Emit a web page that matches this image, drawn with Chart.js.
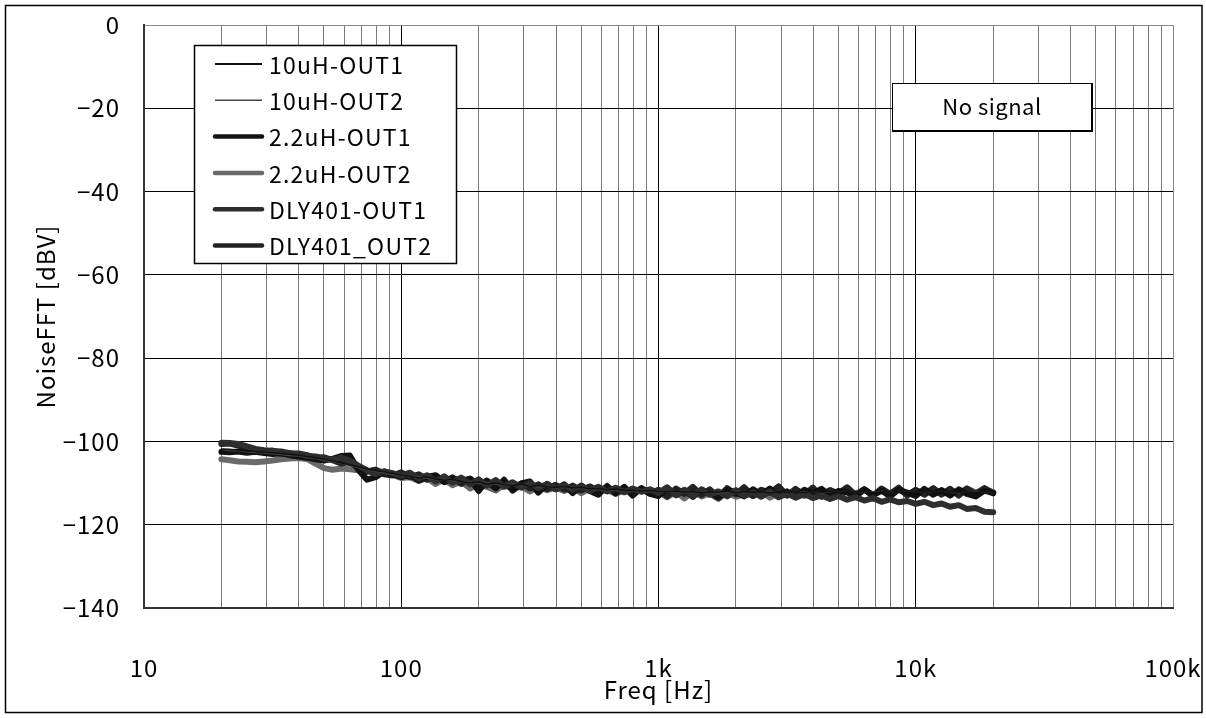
<!DOCTYPE html>
<html>
<head>
<meta charset="utf-8">
<script src="https://cdn.jsdelivr.net/npm/chart.js@4/dist/chart.umd.min.js"></script>
<style>
html,body{margin:0;padding:0;background:#fff;}
canvas{display:block;}
</style>
</head>
<body>
<canvas id="c" width="1206" height="718"></canvas>
<script>
// ---- data ----
const freqHz = [20,21.5,23.3,25.1,27.1,29.3,31.6,34.1,36.9,39.8,43,46.4,50.1,54.1,58.4,63.1,68.1,73.6,79.4,85.8,92.6,
100,108,117,126,136,147,158,171,185,200,215,233,251,271,293,316,341,369,398,430,464,501,541,584,631,681,736,794,858,926,
1000,1080,1170,1260,1360,1470,1580,1710,1850,2000,2150,2330,2510,2710,2930,3160,3410,3690,3980,4300,4640,5010,5410,5840,6310,6810,7360,7940,8580,9260,
10000,10800,11700,12600,13600,14700,15800,17100,18500,20000];

const seriesLabels = ["10uH-OUT1","10uH-OUT2","2.2uH-OUT1","2.2uH-OUT2","DLY401-OUT1","DLY401_OUT2"];

const uH10_out1 = [-101.8,-101.9,-102.1,-102.3,-102.4,-102.6,-102.7,-102.9,-103.1,-103.3,-103.6,-103.9,-104.3,-104.7,-105.1,-105.6,-106.1,-106.6,-107.0,-107.3,-107.7,-108.1,
-108.4,-108.7,-108.5,-109.0,-109.3,-109.1,-109.6,-109.9,-109.7,
-110.2,-110.0,-110.4,-110.6,-110.3,-110.8,-110.5,-110.9,-111.0,
-110.8,-111.2,-111.0,-111.4,-111.3,-111.6,-111.4,-111.8,-111.7,-111.9,-111.8,-112.0,
-112.1,-111.9,-112.2,-112.0,-112.3,-112.1,-112.2,-111.9,-112.3,-112.0,-112.2,-112.1,-112.4,-112.0,-112.2,-112.1,-112.3,-111.9,-112.2,-112.0,-112.3,-112.1,-112.2,-112.0,-112.4,-112.1,-112.2,-112.0,-112.3,-112.1,-112.2,-111.9,-112.3,-112.0,-112.2,-112.1,-112.3,-112.0,-112.2];

const uH10_out2 = [-102.0,-102.2,-102.3,-102.5,-102.7,-102.8,-103.0,-103.2,-103.4,-103.5,-103.8,-104.1,-104.5,-104.9,-105.3,-105.8,-106.3,-106.8,-107.2,-107.5,-107.9,-108.2,
-108.6,-108.4,-108.9,-109.2,-109.0,-109.5,-109.8,-109.6,-110.1,
-109.9,-110.3,-110.5,-110.2,-110.7,-110.6,-110.9,-110.7,-111.1,
-111.0,-111.3,-111.1,-111.5,-111.4,-111.7,-111.5,-111.9,-111.8,-112.0,-111.9,-112.1,
-112.2,-112.0,-112.3,-112.1,-112.2,-112.0,-112.4,-112.1,-112.2,-112.0,-112.3,-112.1,-112.2,-111.9,-112.3,-112.1,-112.2,-112.0,-112.4,-112.1,-112.2,-112.0,-112.3,-112.1,-112.2,-111.9,-112.3,-112.0,-112.2,-112.1,-112.3,-112.0,-112.2,-112.1,-112.4,-112.0,-112.2,-112.1,-112.3];

const uH22_out1 = [-102.5,-102.6,-102.4,-102.7,-102.5,-102.8,-103.0,-102.9,-103.3,-103.6,-103.9,-104.3,-104.6,-104.2,-103.5,-103.4,-106.8,-109.2,-108.6,-107.2,-107.9,-108.6,
-108.0,-109.4,-108.5,-108.1,-109.8,-108.9,-109.3,-109.0,-111.9,
-109.5,-111.3,-109.2,-111.8,-110.1,-109.6,-112.3,-110.2,-111.5,
-110.3,-112.4,-110.6,-111.9,-112.8,-110.7,-112.5,-110.9,-113.0,-111.2,-112.6,-113.1,
-111.4,-112.9,-111.8,-113.3,-111.6,-112.4,-113.5,-111.7,-112.2,-113.2,-111.5,-112.8,-111.3,-113.1,-112.0,-113.4,-111.6,-112.5,-111.4,-113.0,-111.9,-112.2,-113.3,-111.5,-112.9,-111.8,-113.2,-111.6,-112.3,-113.1,-111.4,-112.8,-111.7,-113.0,-111.5,-112.6,-113.2,-111.8,-112.4];

const uH22_out2 = [-104.3,-104.5,-104.8,-104.9,-105.0,-104.8,-104.6,-104.3,-104.1,-104.0,-104.2,-105.3,-106.4,-106.8,-106.5,-106.7,-106.9,-107.2,-106.8,-107.5,-108.0,-108.8,
-108.6,-109.5,-108.8,-110.2,-109.1,-110.5,-109.6,-111.3,-110.2,
-110.9,-111.8,-110.4,-111.4,-110.8,-112.0,-110.9,-111.7,-111.1,
-111.9,-111.2,-112.4,-111.3,-112.1,-111.6,-112.6,-111.8,-112.3,-111.5,-112.5,-111.9,
-113.4,-112.1,-113.7,-112.0,-113.2,-112.5,-113.8,-112.2,-113.3,-112.6,-113.0,-112.0,-113.5,-112.3,-112.9,-111.8,-113.1,-112.2,-112.7,-111.7,-112.9,-112.0,-112.5,-111.6,-112.8,-111.9,-112.6,-111.5,-112.7,-111.8,-112.4,-111.4,-112.8,-111.7,-112.5,-111.3,-112.3,-111.6,-112.2];

const dly_out1 = [-100.3,-100.4,-100.6,-101.2,-101.8,-102.1,-102.3,-102.4,-102.8,-103.0,-103.5,-103.6,-104.1,-104.4,-103.9,-104.6,-105.8,-106.9,-107.8,-107.2,-107.6,-108.3,
-107.5,-108.9,-108.1,-109.6,-108.4,-109.9,-108.7,-110.3,-109.1,
-110.6,-109.3,-110.9,-109.8,-111.1,-110.0,-111.2,-110.2,-111.4,
-110.5,-111.6,-110.7,-111.9,-110.9,-112.0,-111.1,-112.2,-111.3,-112.1,-111.5,-112.4,
-111.0,-112.9,-111.6,-113.1,-111.5,-112.8,-112.0,-113.2,-111.7,-113.0,-112.2,-113.3,-112.0,-113.4,-112.5,-113.5,-112.6,-113.6,-112.9,-113.8,-113.1,-114.0,-113.4,-114.2,-113.6,-114.5,-113.9,-114.6,-114.3,-115.0,-114.5,-115.3,-114.9,-115.7,-115.3,-116.2,-116.0,-116.9,-117.0];

const dly_out2 = [-100.6,-100.5,-101.0,-101.6,-102.0,-102.5,-102.2,-102.8,-103.1,-102.9,-103.3,-104.0,-103.8,-104.5,-105.3,-104.9,-106.4,-107.3,-106.8,-107.9,-108.2,-107.4,
-108.6,-107.9,-109.2,-108.3,-109.7,-108.6,-110.2,-108.9,-110.4,
-109.4,-110.8,-109.7,-111.0,-110.1,-111.3,-110.3,-111.5,-110.4,
-111.6,-110.6,-111.8,-110.8,-112.0,-111.0,-112.3,-111.2,-112.4,-111.4,-112.5,-111.6,
-113.2,-111.3,-112.6,-110.9,-112.9,-111.5,-113.4,-111.2,-112.7,-111.0,-113.1,-111.6,-112.4,-110.8,-113.0,-111.4,-112.8,-111.1,-113.3,-111.7,-112.5,-111.0,-112.9,-111.5,-113.1,-111.3,-112.6,-111.1,-113.0,-111.6,-112.8,-111.2,-112.7,-111.4,-113.0,-111.3,-112.6,-111.2,-112.4];

const xTickValues = [10,20,30,40,50,60,70,80,90,100,200,300,400,500,600,700,800,900,1000,2000,3000,4000,5000,6000,7000,8000,9000,10000,20000,30000,40000,50000,60000,70000,80000,90000,100000];
const xTickLabels = {10:"10",100:"100",1000:"1k",10000:"10k",100000:"100k"};
const yTickValues = [0,-20,-40,-60,-80,-100,-120,-140];

// ---- chart ----
const FONT = "'Noto Sans CJK JP','Noto Sans',sans-serif";
const valuesList = [uH10_out1, uH10_out2, uH22_out1, uH22_out2, dly_out1, dly_out2];
const styles = [
  {color:'#111111', width:1.5, order:1},
  {color:'#444444', width:1.2, order:2},
  {color:'#111111', width:6, order:4},
  {color:'#6a6a6a', width:6, order:6},
  {color:'#2e2e2e', width:6, order:3},
  {color:'#222222', width:6, order:5}
];
const datasets = seriesLabels.map((lab, k) => ({
  label: lab,
  data: freqHz.map((f, i) => ({x: f, y: valuesList[k][i]})),
  borderColor: styles[k].color,
  backgroundColor: styles[k].color,
  borderWidth: styles[k].width,
  order: styles[k].order,
  pointRadius: 0,
  tension: 0,
  fill: false,
  borderCapStyle: 'round',
  borderJoinStyle: 'round'
}));

const framePlugin = {
  id: 'frame',
  beforeDraw(chart) {
    chart.ctx.letterSpacing = '1px';
  },
  afterDraw(chart) {
    const ctx = chart.ctx;
    ctx.save();
    // outer border
    ctx.strokeStyle = '#000';
    ctx.lineWidth = 1.5;
    ctx.strokeRect(5.5, 5.5, 1196.5, 707);
    // legend
    const lx = 194, ly = 45, lw = 262, lh = 218;
    ctx.fillStyle = '#fff';
    ctx.fillRect(lx, ly, lw, lh);
    ctx.lineWidth = 1.5;
    ctx.strokeStyle = '#000';
    ctx.strokeRect(lx + 0.5, ly + 0.5, lw, lh);
    ctx.font = '23px ' + FONT;
    ctx.letterSpacing = '1.2px';
    ctx.textBaseline = 'middle';
    ctx.textAlign = 'left';
    chart.data.datasets.forEach((ds, i) => {
      const y = 64 + i * 36.3;
      ctx.beginPath();
      ctx.strokeStyle = ds.borderColor;
      ctx.lineWidth = ds.borderWidth > 2 ? 4.5 : (i === 0 ? 2 : 1.5);
      ctx.lineCap = ds.borderWidth > 2 ? 'round' : 'butt';
      ctx.moveTo(215, y);
      ctx.lineTo(262, y);
      ctx.stroke();
      ctx.fillStyle = '#000';
      ctx.fillText(ds.label, 269, y + 1);
    });
    // annotation box
    ctx.fillStyle = '#fff';
    ctx.fillRect(892, 83, 200, 48);
    ctx.lineCap = 'butt';
    ctx.lineWidth = 1;
    ctx.strokeStyle = '#000';
    ctx.strokeRect(892.5, 83.5, 199, 47);
    ctx.lineWidth = 2;
    ctx.beginPath();
    ctx.moveTo(892, 131); ctx.lineTo(1092, 131); ctx.lineTo(1092, 83);
    ctx.stroke();
    ctx.fillStyle = '#000';
    ctx.textAlign = 'center';
    ctx.font = '22px ' + FONT;
    ctx.letterSpacing = '0.5px';
    ctx.fillText('No signal', 992, 107);
    ctx.restore();
  }
};

new Chart(document.getElementById('c'), {
  type: 'line',
  data: { datasets },
  options: {
    responsive: false,
    animation: false,
    events: [],
    layout: { padding: { left: 0, top: 25, right: 33, bottom: 0 } },
    plugins: { legend: { display: false }, tooltip: { enabled: false } },
    scales: {
      x: {
        type: 'logarithmic',
        min: 10, max: 100000,
        afterBuildTicks(scale) {
          scale.ticks = xTickValues.map(v => ({ value: v, major: !!xTickLabels[v] }));
        },
        afterFit(scale) { scale.height = 110; scale.paddingLeft = 0; scale.paddingRight = 0; },
        ticks: {
          autoSkip: false, maxRotation: 0, minRotation: 0, padding: 45,
          color: '#000', font: { family: FONT, size: 24 },
          callback: (v) => xTickLabels[v] || ''
        },
        grid: {
          drawTicks: false,
          lineWidth: 1,
          color: (c) => {
            const v = c.tick ? c.tick.value : 0;
            if (v === 100000) return '#8a8a8a';
            return xTickLabels[v] ? '#000' : '#7a7a7a';
          }
        },
        border: { display: true, color: '#333', width: 2 },
        title: { display: true, text: 'Freq [Hz]', color: '#000', font: { family: FONT, size: 24 }, padding: { top: 0, bottom: 14 } }
      },
      y: {
        type: 'linear',
        min: -140, max: 0,
        afterBuildTicks(scale) {
          scale.ticks = yTickValues.map(v => ({ value: v }));
        },
        afterFit(scale) { scale.width = 144; scale.paddingTop = 0; scale.paddingBottom = 0; },
        ticks: {
          padding: 24, color: '#000', font: { family: FONT, size: 24 },
          callback: (v) => String(v).replace('-', '\u2212')
        },
        grid: {
          drawTicks: false,
          lineWidth: 1,
          color: (c) => (c.tick && c.tick.value === 0) ? '#8a8a8a' : '#000'
        },
        border: { display: true, color: '#333', width: 2 },
        title: { display: true, text: 'NoiseFFT [dBV]', color: '#000', font: { family: FONT, size: 24 }, padding: { top: 31, bottom: 0 } }
      }
    }
  },
  plugins: [framePlugin]
});
</script>
</body>
</html>
